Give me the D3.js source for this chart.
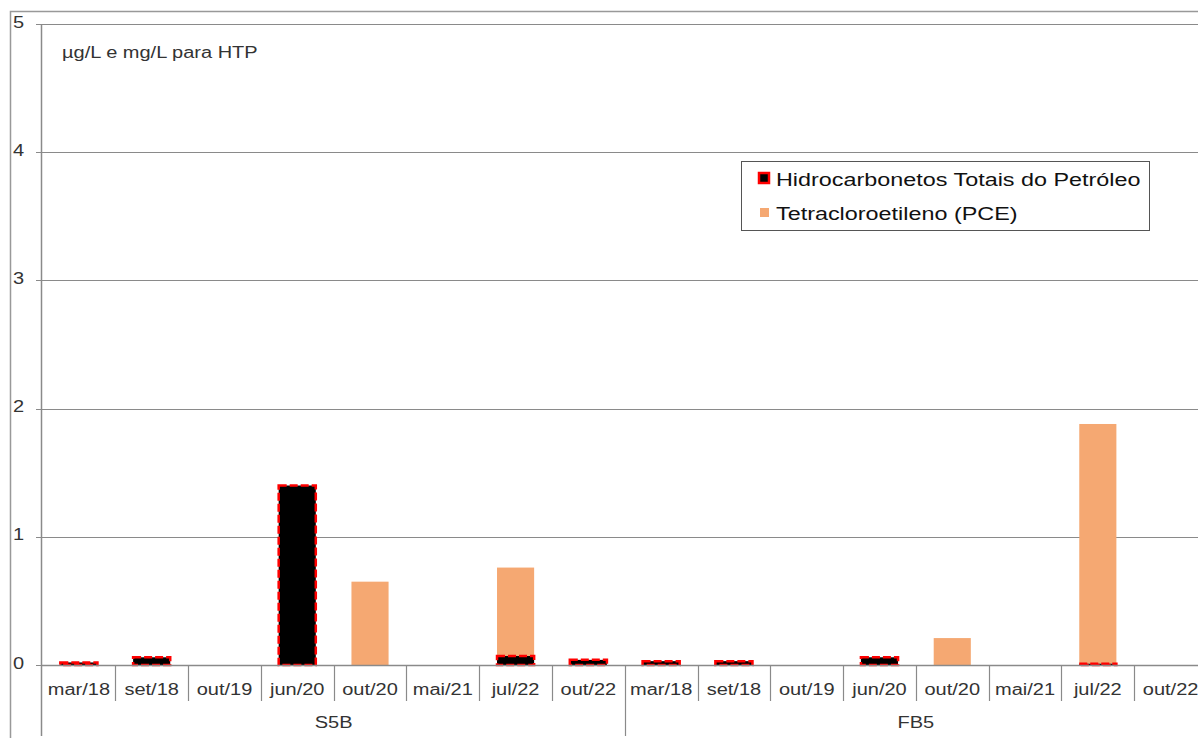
<!DOCTYPE html>
<meta charset="utf-8">
<style>
body { margin: 0; background: #fff; }
text { font-family: "Liberation Sans", Arial, sans-serif; fill: #333; }
</style>
<body>
<script src="https://d3js.org/d3.v7.min.js"></script>
<script>

// data
var groups = ["S5B", "FB5"];
var months = ["mar/18", "set/18", "out/19", "jun/20", "out/20", "mai/21", "jul/22", "out/22"];
var htp = [0.02, 0.06, 0, 1.40, 0, 0, 0.07, 0.04,   0.03, 0.03, 0, 0.06, 0, 0, 0.01, 0];
var pce = [0, 0, 0, 0, 0.65, 0, 0.69, 0,             0, 0, 0, 0, 0.21, 0, 1.87, 0];
var yTicks = [0, 1, 2, 3, 4, 5];

var width = 1198, height = 738;
var axisX = 41, zeroY = 665, topY = 24;
var stretch = 1.25; // the original text is drawn wide

// place a text with horizontal stretch
function place(sel, fx, fy) {
  sel.attr("transform", function(d, i) {
    return "translate(" + fx(d, i) + "," + fy(d, i) + ") scale(" + stretch + ",1)";
  });
}

var svg = d3.select("body").append("svg")
    .attr("width", width)
    .attr("height", height);

// outer frame
svg.append("path")
    .attr("d", "M10.5," + height + "V11.5H" + width)
    .attr("fill", "none")
    .attr("stroke", "#999")
    .attr("stroke-width", 1.5);

var rows = [];
groups.forEach(function(g, gi) {
  months.forEach(function(m, mi) {
    var i = gi * months.length + mi;
    rows.push({ id: i, group: g, month: m, htp: htp[i], pce: pce[i] });
  });
});

var x = d3.scaleBand()
    .domain(rows.map(function(d) { return d.id; }))
    .range([42.5, 1207])
    .padding(0);

var y = d3.scaleLinear().domain([0, 5]).range([zeroY, topY]);

// gridlines
svg.append("g").selectAll("line")
    .data(yTicks.filter(function(t) { return t > 0; }))
  .enter().append("line")
    .attr("x1", axisX).attr("x2", width)
    .attr("y1", function(d) { return Math.round(y(d)) + 0.5; })
    .attr("y2", function(d) { return Math.round(y(d)) + 0.5; })
    .attr("stroke", "#8a8a8a")
    .attr("stroke-width", 1.2);

// y tick labels and marks
var yt = svg.append("g").selectAll("g")
    .data(yTicks)
  .enter().append("g");
yt.append("line")
    .attr("x1", axisX - 5).attr("x2", axisX)
    .attr("y1", function(d) { return Math.round(y(d)) + 0.5; })
    .attr("y2", function(d) { return Math.round(y(d)) + 0.5; })
    .attr("stroke", "#8a8a8a");
yt.append("text")
    .attr("dy", "0.35em")
    .style("font-size", "16px")
    .text(function(d) { return d; })
    .call(place, function() { return 13; }, function(d) { return y(d) - 2; });

var bw = x.bandwidth() * 0.51;
function bx(d) { return x(d.id) + (x.bandwidth() - bw) / 2; }

// PCE stacked on top of HTP
svg.append("g").selectAll("rect")
    .data(rows.filter(function(d) { return d.pce > 0; }))
  .enter().append("rect")
    .attr("x", bx)
    .attr("width", bw)
    .attr("y", function(d) { return y(d.htp + d.pce); })
    .attr("height", function(d) { return y(d.htp) - y(d.htp + d.pce); })
    .attr("fill", "#f5a872");

// HTP bars, black with red dashed border
svg.append("g").selectAll("rect")
    .data(rows.filter(function(d) { return d.htp > 0; }))
  .enter().append("rect")
    .attr("x", bx)
    .attr("width", bw)
    .attr("y", function(d) { return y(d.htp); })
    .attr("height", function(d) { return y(0) - y(d.htp); })
    .attr("fill", "#000")
    .attr("stroke", "#ff0000")
    .attr("stroke-width", 2.5)
    .attr("stroke-dasharray", "8,3");

// axes lines
svg.append("line")
    .attr("x1", axisX + 0.5).attr("x2", axisX + 0.5)
    .attr("y1", topY).attr("y2", 736)
    .attr("stroke", "#8a8a8a").attr("stroke-width", 1.5);
svg.append("line")
    .attr("x1", axisX).attr("x2", width)
    .attr("y1", zeroY + 0.5).attr("y2", zeroY + 0.5)
    .attr("stroke", "#8a8a8a").attr("stroke-width", 1.5);

// category separators
svg.append("g").selectAll("line")
    .data(rows.slice(1))
  .enter().append("line")
    .attr("x1", function(d) { return Math.round(x(d.id)) + 0.5; })
    .attr("x2", function(d) { return Math.round(x(d.id)) + 0.5; })
    .attr("y1", zeroY)
    .attr("y2", function(d) { return d.id % months.length === 0 ? 736 : 701; })
    .attr("stroke", "#8a8a8a")
    .attr("stroke-width", 1.2);

// category labels
svg.append("g").selectAll("text")
    .data(rows)
  .enter().append("text")
    .attr("dy", "0.35em")
    .attr("text-anchor", "middle")
    .style("font-size", "16px")
    .text(function(d) { return d.month; })
    .call(place, function(d) { return x(d.id) + x.bandwidth() / 2; }, function() { return 689; });

// group labels
svg.append("g").selectAll("text")
    .data(groups)
  .enter().append("text")
    .attr("dy", "0.35em")
    .attr("text-anchor", "middle")
    .style("font-size", "16px")
    .text(function(d) { return d; })
    .call(place, function(g, gi) {
      var a = x(gi * months.length), b = x((gi + 1) * months.length - 1) + x.bandwidth();
      return (a + b) / 2;
    }, function() { return 722; });

// unit note
svg.append("text")
    .attr("dy", "0.35em")
    .style("font-size", "16px")
    .text("µg/L e mg/L para HTP")
    .call(place, function() { return 62; }, function() { return 52; });

// legend
var legendItems = ["Hidrocarbonetos Totais do Petróleo", "Tetracloroetileno (PCE)"];
var lg = svg.append("g");
lg.append("rect")
    .attr("x", 741.5).attr("y", 161.5)
    .attr("width", 408).attr("height", 69)
    .attr("fill", "#fff")
    .attr("stroke", "#555");
lg.append("rect")
    .attr("x", 759).attr("y", 173)
    .attr("width", 10).attr("height", 10)
    .attr("fill", "#000").attr("stroke", "#ff0000").attr("stroke-width", 2.5);
lg.append("rect")
    .attr("x", 760).attr("y", 208)
    .attr("width", 9).attr("height", 9)
    .attr("fill", "#f5a872");
lg.selectAll("text.leg")
    .data(legendItems)
  .enter().append("text")
    .attr("class", "leg")
    .attr("dy", "0.35em")
    .style("font-size", "18.7px")
    .style("fill", "#111")
    .text(function(d) { return d; })
    .call(place, function() { return 776; }, function(d, i) { return 179 + i * 34; });

</script>
</body>
